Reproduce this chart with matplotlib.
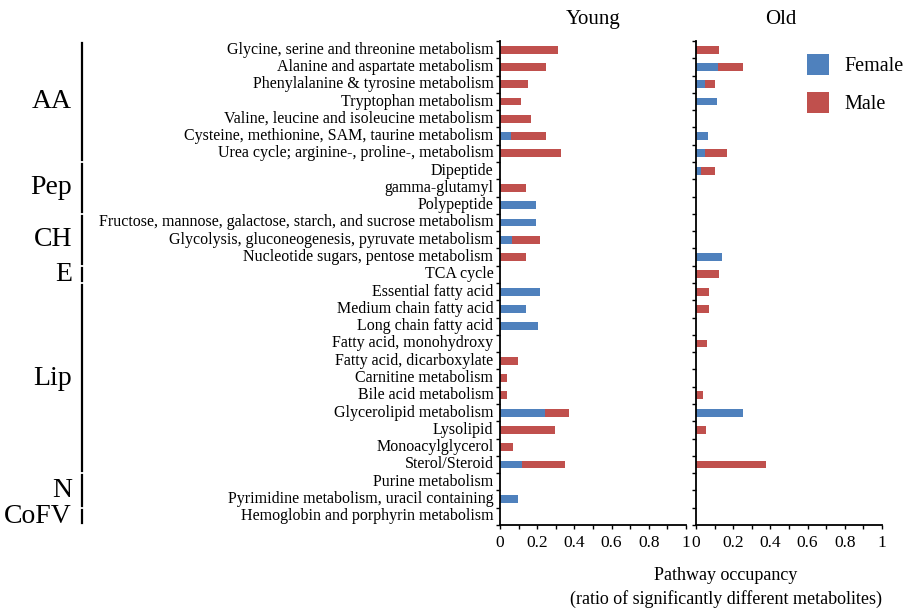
import matplotlib
matplotlib.use("Agg")
import matplotlib.pyplot as plt
import matplotlib.transforms as mtransforms
from matplotlib.patches import Patch
from matplotlib.ticker import MultipleLocator, FixedLocator
import numpy as np

plt.rcParams['font.family'] = ['Liberation Serif', 'DejaVu Serif']

pathways = [
    "Glycine, serine and threonine metabolism",
    "Alanine and aspartate metabolism",
    "Phenylalanine & tyrosine metabolism",
    "Tryptophan metabolism",
    "Valine, leucine and isoleucine metabolism",
    "Cysteine, methionine, SAM, taurine metabolism",
    "Urea cycle; arginine-, proline-, metabolism",
    "Dipeptide",
    "gamma-glutamyl",
    "Polypeptide",
    "Fructose, mannose, galactose, starch, and sucrose metabolism",
    "Glycolysis, gluconeogenesis, pyruvate metabolism",
    "Nucleotide sugars, pentose metabolism",
    "TCA cycle",
    "Essential fatty acid",
    "Medium chain fatty acid",
    "Long chain fatty acid",
    "Fatty acid, monohydroxy",
    "Fatty acid, dicarboxylate",
    "Carnitine metabolism",
    "Bile acid metabolism",
    "Glycerolipid metabolism",
    "Lysolipid",
    "Monoacylglycerol",
    "Sterol/Steroid",
    "Purine metabolism",
    "Pyrimidine metabolism, uracil containing",
    "Hemoglobin and porphyrin metabolism",
]

young_female = [0, 0, 0, 0, 0, 0.058, 0, 0, 0, 0.196,
                0.196, 0.064, 0, 0, 0.214, 0.141, 0.203, 0, 0, 0,
                0, 0.24, 0, 0, 0.118, 0, 0.097, 0]
young_male = [0.31, 0.248, 0.149, 0.111, 0.164, 0.19, 0.329, 0, 0.141, 0,
              0, 0.15, 0.141, 0, 0, 0, 0, 0, 0.097, 0.039,
              0.039, 0.131, 0.295, 0.071, 0.229, 0, 0, 0]
old_female = [0, 0.118, 0.046, 0.111, 0, 0.063, 0.048, 0.025, 0, 0,
              0, 0, 0.141, 0, 0, 0, 0, 0, 0, 0,
              0, 0.25, 0, 0, 0, 0, 0, 0]
old_male = [0.123, 0.132, 0.054, 0, 0, 0, 0.116, 0.075, 0, 0,
            0, 0, 0, 0.123, 0.071, 0.071, 0, 0.061, 0, 0,
            0.038, 0, 0.055, 0, 0.374, 0, 0, 0]

groups = ["AA", "Pep", "CH", "E", "Lip", "N", "CoFV"]
group_sizes = [7, 3, 3, 1, 11, 2, 1]

panel_titles = ["Young", "Old"]
xticks = [0, 0.2, 0.4, 0.6, 0.8, 1]
xticklabels = ["0", "0.2", "0.4", "0.6", "0.8", "1"]

BLUE = "#4F81BD"
RED = "#C0504D"

W, H = 910, 615
fig = plt.figure(figsize=(W / 100, H / 100), dpi=100)

ax_top = 41
ax_bot = 525
axes = []
for (x0, x1) in [(500, 686), (696, 882)]:
    ax = fig.add_axes([x0 / W, 1 - ax_bot / H, (x1 - x0) / W, (ax_bot - ax_top) / H])
    axes.append(ax)

title_x = [0.5, 0.457]
y = np.arange(len(pathways))
bh = 0.46
for ax, fem, mal, title, tx in zip(axes, [young_female, old_female],
                                   [young_male, old_male], panel_titles, title_x):
    fem = np.array(fem)
    mal = np.array(mal)
    ax.barh(y, fem, height=bh, color=BLUE, edgecolor="none")
    ax.barh(y, mal, left=fem, height=bh, color=RED, edgecolor="none")
    ax.set_ylim(len(pathways) - 0.5, -0.5)
    ax.set_xlim(0, 1)
    for s in ["top", "right"]:
        ax.spines[s].set_visible(False)
    for s in ["left", "bottom"]:
        ax.spines[s].set_linewidth(1.3)
    ax.xaxis.set_major_locator(FixedLocator(xticks))
    ax.set_xticklabels(xticklabels, fontsize=12.5)
    ax.xaxis.set_minor_locator(MultipleLocator(0.1))
    ax.tick_params(axis="x", which="both", direction="out", length=3, width=1, pad=4)
    ax.yaxis.set_major_locator(FixedLocator(np.arange(len(pathways) + 1) - 0.5))
    ax.tick_params(axis="y", which="both", direction="out", length=3, width=1)
    ax.set_yticklabels([])
    ax.set_title(title, fontsize=15, pad=12, x=tx)

# category labels on young axis
ax0 = axes[0]
for i, name in enumerate(pathways):
    ax0.text(-0.035, i, name, transform=ax0.get_yaxis_transform(),
             ha="right", va="center", fontsize=11.5)

# group brackets and labels
trans = mtransforms.blended_transform_factory(fig.transFigure, ax0.transData)
start = 0
for g, n in zip(groups, group_sizes):
    end = start + n - 1
    y0 = start - 0.5 + 0.12
    y1 = end + 0.5 - 0.12
    fig.add_artist(plt.Line2D([82 / W, 82 / W], [y0, y1], transform=trans,
                              color="black", lw=1.6))
    fig.text(72 / W, (start + end) / 2, g, transform=trans, ha="right",
             va="center", fontsize=20)
    start += n

# legend
handles = [Patch(facecolor=BLUE, edgecolor="none", label="Female"),
           Patch(facecolor=RED, edgecolor="none", label="Male")]
fig.legend(handles=handles, loc="upper left", bbox_to_anchor=(791 / W, 1 - 38 / H),
           frameon=False, fontsize=14.5, handlelength=1.1, handleheight=1.2,
           labelspacing=0.8, handletextpad=0.75, borderpad=0.3)

fig.text(726 / W, 1 - 575 / H, "Pathway occupancy", ha="center", va="center", fontsize=13)
fig.text(726 / W, 1 - 599 / H, "(ratio of significantly different metabolites)",
         ha="center", va="center", fontsize=13)

fig.savefig("out.png", dpi=100)
